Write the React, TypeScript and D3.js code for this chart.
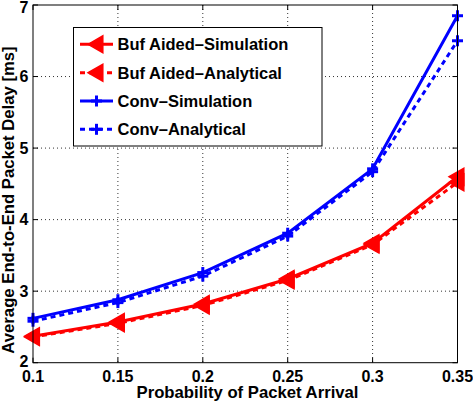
import React from "react";
import * as d3 from "d3";

const xValues = [0.1, 0.15, 0.2, 0.25, 0.3, 0.35];
const bufSim = [2.37, 2.57, 2.82, 3.17, 3.67, 4.6];
const bufAna = [2.36, 2.55, 2.8, 3.15, 3.65, 4.52];
const convSim = [2.62, 2.88, 3.26, 3.81, 4.71, 6.85];
const convAna = [2.58, 2.84, 3.21, 3.77, 4.67, 6.5];
const xTicks = [0.1, 0.15, 0.2, 0.25, 0.3, 0.35];
const yTicks = [2, 3, 4, 5, 6, 7];
const xTickLabels = ["0.1", "0.15", "0.2", "0.25", "0.3", "0.35"];

const seriesList = [
  { name: "Buf Aided\u2013Simulation", values: bufSim, color: "#ff0000", dashed: false, marker: "tri" },
  { name: "Buf Aided\u2013Analytical", values: bufAna, color: "#ff0000", dashed: true, marker: "tri" },
  { name: "Conv\u2013Simulation", values: convSim, color: "#0000ff", dashed: false, marker: "plus" },
  { name: "Conv\u2013Analytical", values: convAna, color: "#0000ff", dashed: true, marker: "plus" },
];

const W = 473;
const H = 402;
const L = 33, R = 457.5, T = 5, B = 362.7;
const FONT = "'Liberation Sans', Arial, Helvetica, sans-serif";

function Marker({ type, x, y, color, size }: { type: string; x: number; y: number; color: string; size: number }) {
  if (type === "tri") {
    const s = size;
    const p = `${x - s * 0.6},${y} ${x + s * 0.45},${y - s * 0.6} ${x + s * 0.45},${y + s * 0.6}`;
    return <polygon points={p} fill={color} stroke={color} strokeWidth={1.5} />;
  }
  const s = size * 0.5;
  return (
    <g stroke={color} strokeWidth={3}>
      <line x1={x - s} x2={x + s} y1={y} y2={y} />
      <line x1={x} x2={x} y1={y - s} y2={y + s} />
    </g>
  );
}

export default function App() {
  const x = d3.scaleLinear().domain([0.1, 0.35]).range([L, R]);
  const y = d3.scaleLinear().domain([2, 7]).range([B, T]);
  const line = d3.line<number>().x((_, i) => x(xValues[i])).y((d) => y(d));

  const legX = 73.5, legY = 27.5, legW = 248.5, legH = 118.5;
  const rowY = [44.3, 72.7, 101, 129.3];

  return (
    <svg width={W} height={H} style={{ position: "absolute", left: 0, top: 0, background: "#fff" }}>
      <rect x={0} y={0} width={W} height={H} fill="#fff" />
      {/* grid */}
      <g stroke="#333" strokeWidth={1} strokeDasharray="1,3">
        {xTicks.slice(1, -1).map((t) => (
          <line key={"gx" + t} x1={x(t)} x2={x(t)} y1={T} y2={B} />
        ))}
        {yTicks.slice(1, -1).map((t) => (
          <line key={"gy" + t} x1={L} x2={R} y1={y(t)} y2={y(t)} />
        ))}
      </g>
      {/* ticks */}
      <g stroke="#000" strokeWidth={1}>
        {xTicks.map((t) => (
          <g key={"tx" + t}>
            <line x1={x(t)} x2={x(t)} y1={B} y2={B - 5} />
            <line x1={x(t)} x2={x(t)} y1={T} y2={T + 5} />
          </g>
        ))}
        {yTicks.map((t) => (
          <g key={"ty" + t}>
            <line x1={L} x2={L + 5} y1={y(t)} y2={y(t)} />
            <line x1={R} x2={R - 5} y1={y(t)} y2={y(t)} />
          </g>
        ))}
      </g>
      {/* series lines */}
      {seriesList.map((s) => (
        <path
          key={s.name}
          d={line(s.values) || ""}
          fill="none"
          stroke={s.color}
          strokeWidth={3}
          strokeDasharray={s.dashed ? "5,4" : undefined}
        />
      ))}
      {seriesList.map((s) =>
        s.values.map((v, i) => (
          <Marker key={s.name + i} type={s.marker} x={x(xValues[i])} y={y(v)} color={s.color} size={s.marker === "tri" ? 14 : 11} />
        ))
      )}
      {/* frame */}
      <rect x={L} y={T} width={R - L} height={B - T} fill="none" stroke="#000" strokeWidth={1} />
      {/* tick labels */}
      <g fontFamily={FONT} fontWeight="bold" fontSize={16} fill="#000">
        {xTicks.map((t, i) => (
          <text key={"lx" + t} x={x(t)} y={381.5} textAnchor="middle">
            {xTickLabels[i]}
          </text>
        ))}
        {yTicks.map((t) => (
          <text key={"ly" + t} x={28.5} y={Math.min(Math.max(y(t) + 5.5, 12.5), 366.5)} textAnchor="end">
            {t}
          </text>
        ))}
      </g>
      <text x={247.5} y={398} textAnchor="middle" fontFamily={FONT} fontWeight="bold" fontSize={16.7}>
        Probability of Packet Arrival
      </text>
      <text
        transform={`translate(14,200) rotate(-90)`}
        textAnchor="middle"
        fontFamily={FONT}
        fontWeight="bold"
        fontSize={16.7}
      >
        Average End-to-End Packet Delay [ms]
      </text>
      {/* legend */}
      <rect x={legX} y={legY} width={legW} height={legH} fill="#fff" stroke="#000" strokeWidth={1} />
      {seriesList.map((s, i) => (
        <g key={"leg" + s.name}>
          <line
            x1={80}
            x2={113}
            y1={rowY[i]}
            y2={rowY[i]}
            stroke={s.color}
            strokeWidth={3}
            strokeDasharray={s.dashed ? "5,4" : undefined}
          />
          <Marker type={s.marker} x={96.5} y={rowY[i]} color={s.color} size={s.marker === "tri" ? 14 : 11} />
          <text x={117.5} y={rowY[i] + 6} fontFamily={FONT} fontWeight="bold" fontSize={16.5}>
            {s.name}
          </text>
        </g>
      ))}
    </svg>
  );
}
